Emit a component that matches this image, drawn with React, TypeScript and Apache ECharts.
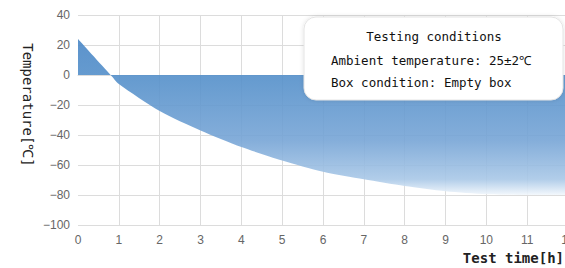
import React, { useEffect, useRef } from "react";
import * as echarts from "echarts";

const timeHours = [0, 0.8, 1, 2, 3, 4, 5, 6, 7, 8, 9, 10, 11, 12];
const temperatures = [24, 0, -6, -24, -37, -48, -57, -64.5, -69.5, -74, -77.5, -79.5, -80, -80];
const yTicks = { min: -100, max: 40, interval: 20 };
const xTicks = { min: 0, max: 12, interval: 1 };
const boxTitle = "Testing conditions";
const boxLines = ["Ambient temperature: 25±2℃", "Box condition: Empty box"];
const yName = "Temperature[℃]";
const xName = "Test time[h]";

export default function App() {
  const ref = useRef<HTMLDivElement>(null);
  useEffect(() => {
    if (!ref.current) return;
    const chart = echarts.init(ref.current, null, { renderer: "svg" });
    const data = timeHours.map((t, i) => [t, temperatures[i]]);
    const mono = "DejaVu Sans Mono";
    chart.setOption({
      animation: false,
      grid: { left: 78, right: -3, top: 15, bottom: 43, outerBoundsMode: "none", containLabel: false },
      xAxis: {
        type: "value",
        min: xTicks.min,
        max: xTicks.max,
        interval: xTicks.interval,
        axisLine: { show: true, lineStyle: { color: "#dcdcdc" } },
        axisTick: { show: false },
        axisLabel: { color: "#666", fontSize: 12, margin: 9, fontFamily: "Liberation Sans" },
        splitLine: { show: true, showMinLine: false, lineStyle: { color: "#dcdcdc" } },
      },
      yAxis: {
        type: "value",
        min: yTicks.min,
        max: yTicks.max,
        interval: yTicks.interval,
        axisLine: { show: false },
        axisTick: { show: false },
        axisLabel: {
          color: "#666",
          fontSize: 12,
          margin: 8,
          fontFamily: "Liberation Sans",
          formatter: (v: number) => String(v).replace("-", "−"),
        },
        splitLine: { show: true, lineStyle: { color: "#dcdcdc" } },
      },
      series: [
        {
          type: "line",
          data,
          smooth: 0.25,
          symbol: "none",
          lineStyle: { width: 0 },
          areaStyle: {
            opacity: 0.9,
            color: new echarts.graphic.LinearGradient(0, 0, 0, 1, [
              { offset: 0, color: "#4a87c6" },
              { offset: 0.25, color: "#5590ca" },
              { offset: 0.65, color: "#77a5d6" },
              { offset: 0.9, color: "#a9c8e7" },
              { offset: 1, color: "#f2f7fc" },
            ]),
          },
        },
      ],
      graphic: [
        {
          type: "text",
          x: 28,
          y: 105,
          rotation: -Math.PI / 2,
          style: {
            text: yName,
            fontFamily: mono,
            fontSize: 14,
            fill: "#222",
            align: "center",
            verticalAlign: "middle",
          },
        },
        {
          type: "text",
          x: 564,
          y: 258,
          style: {
            text: xName,
            fontFamily: mono,
            fontSize: 14,
            fontWeight: "bold",
            fill: "#222",
            align: "right",
            verticalAlign: "middle",
          },
        },
        {
          type: "rect",
          shape: { x: 304, y: 17, width: 259, height: 83, r: 12 },
          style: {
            fill: "#fff",
            stroke: "#e4e4e4",
            lineWidth: 1,
            shadowBlur: 4,
            shadowColor: "rgba(0,0,0,0.12)",
          },
          z: 100,
        },
        {
          type: "text",
          x: 434,
          y: 36,
          z: 101,
          style: {
            text: boxTitle,
            fontFamily: mono,
            fontSize: 12.5,
            fill: "#111",
            align: "center",
            verticalAlign: "middle",
          },
        },
        ...boxLines.map((t, i) => ({
          type: "text",
          x: 331,
          y: 60 + i * 22,
          z: 101,
          style: {
            text: t,
            fontFamily: mono,
            fontSize: 12.5,
            fill: "#111",
            align: "left",
            verticalAlign: "middle",
          },
        })),
      ],
    });
    return () => chart.dispose();
  }, []);
  return (
    <div
      ref={ref}
      style={{ position: "fixed", left: 0, top: 0, width: 565, height: 268, background: "#fff" }}
    />
  );
}
